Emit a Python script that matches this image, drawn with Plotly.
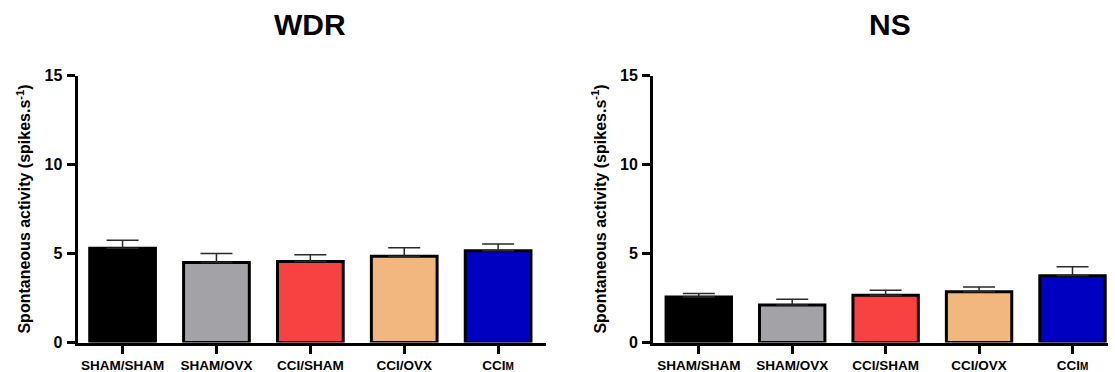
import plotly.graph_objects as go

# Groups and measured spontaneous activity (mean + SEM, spikes/s)
groups = ["SHAM/SHAM", "SHAM/OVX", "CCI/SHAM", "CCI/OVX", "CCI<span style='font-size:10px'>M</span>"]
wdr_mean = [5.3, 4.5, 4.55, 4.85, 5.15]
wdr_sem = [0.45, 0.5, 0.38, 0.47, 0.38]
ns_mean = [2.55, 2.1, 2.65, 2.85, 3.75]
ns_sem = [0.2, 0.33, 0.28, 0.27, 0.5]
bar_colors = ["#000000", "#a2a2a7", "#f84141", "#f1b77e", "#0000c0"]

panel_titles = ["WDR", "NS"]
y_ticks = [0, 5, 10, 15]

FONT = "Liberation Sans, Arial, sans-serif"
W, H = 1115, 372

fig = go.Figure()

for i, (means, sems) in enumerate([(wdr_mean, wdr_sem), (ns_mean, ns_sem)]):
    suffix = "" if i == 0 else str(i + 1)
    fig.add_trace(go.Bar(
        x=groups, y=means,
        xaxis="x" + suffix, yaxis="y" + suffix,
        width=0.7,
        marker=dict(color=bar_colors, line=dict(color="#000000", width=3)),
        error_y=dict(type="data", symmetric=False, array=sems,
                     arrayminus=[0] * len(sems),
                     color="#2a2a2a", thickness=1.5, width=16),
        showlegend=False,
    ))

axis_common = dict(
    showline=True, linecolor="#000000", linewidth=3,
    ticks="outside", tickwidth=3, tickcolor="#000000", ticklen=8,
    showgrid=False, zeroline=False, automargin=False,
)
x_font = dict(family=FONT, size=13.5, color="#000000", weight="bold")
y_font = dict(family=FONT, size=16, color="#000000", weight="bold")

y_title = dict(
    text="Spontaneous activity (spikes.s<sup>-1</sup>)",
    font=dict(family=FONT, size=16, color="#000000", weight="bold"),
    standoff=10,
)

y_dom = [(H - 342.5) / H, (H - 75.5) / H]

fig.update_layout(
    width=W, height=H,
    margin=dict(l=0, r=0, t=0, b=0),
    paper_bgcolor="#ffffff", plot_bgcolor="#ffffff",
    xaxis=dict(domain=[77.5 / W, 546 / W], range=[-0.48, 4.51],
               anchor="y", tickfont=x_font, **axis_common),
    yaxis=dict(domain=y_dom, range=[0, 15], tickvals=y_ticks,
               anchor="x", tickfont=y_font, title=y_title,
               ticklabelstandoff=1, **axis_common),
    xaxis2=dict(domain=[653 / W, 1108 / W], range=[-0.49, 4.38],
                anchor="y2", tickfont=x_font, **axis_common),
    yaxis2=dict(domain=y_dom, range=[0, 15], tickvals=y_ticks,
                anchor="x2", tickfont=y_font, title=y_title,
                ticklabelstandoff=1, **axis_common),
    annotations=[
        dict(text="<b>%s</b>" % panel_titles[0], x=310 / W, y=1 - 25 / H,
             xref="paper", yref="paper", xanchor="center", yanchor="middle",
             showarrow=False, font=dict(family=FONT, size=30, color="#000000")),
        dict(text="<b>%s</b>" % panel_titles[1], x=890 / W, y=1 - 25 / H,
             xref="paper", yref="paper", xanchor="center", yanchor="middle",
             showarrow=False, font=dict(family=FONT, size=30, color="#000000")),
    ],
)

fig.write_html("out.html")
